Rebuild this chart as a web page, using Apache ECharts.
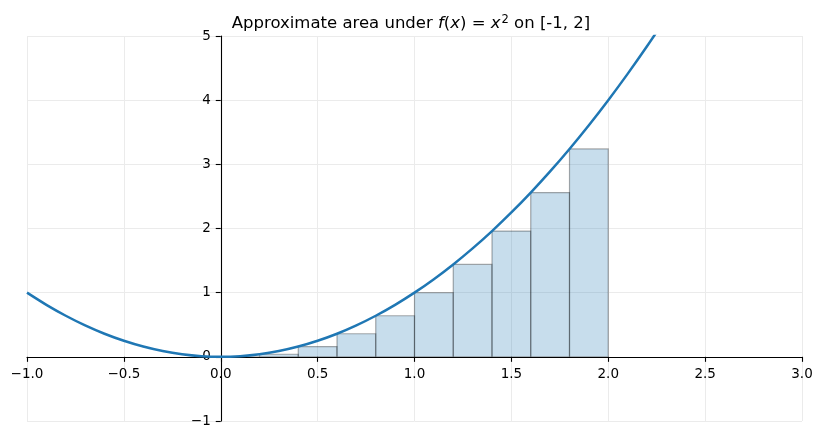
<!DOCTYPE html>
<html>
<head>
<meta charset="utf-8">
<script src="https://cdn.jsdelivr.net/npm/echarts@6/dist/echarts.min.js"></script>
<style>
  html, body { margin: 0; padding: 0; background: #fff; }
  #chart { width: 822px; height: 439px; }
</style>
</head>
<body>
<div id="chart"></div>
<script>
const curveX = [-1.0, -0.9, -0.8, -0.7, -0.6, -0.5, -0.4, -0.3, -0.2, -0.1, 0.0,
  0.1, 0.2, 0.3, 0.4, 0.5, 0.6, 0.7, 0.8, 0.9, 1.0, 1.1, 1.2, 1.3, 1.4, 1.5,
  1.6, 1.7, 1.8, 1.9, 2.0, 2.1, 2.2, 2.3]
const curveY = [1.00, 0.81, 0.64, 0.49, 0.36, 0.25, 0.16, 0.09, 0.04, 0.01, 0.00,
  0.01, 0.04, 0.09, 0.16, 0.25, 0.36, 0.49, 0.64, 0.81, 1.00, 1.21, 1.44, 1.69, 1.96, 2.25,
  2.56, 2.89, 3.24, 3.61, 4.00, 4.41, 4.84, 5.29]

// left-endpoint rectangles
const barLeft = [0.0, 0.2, 0.4, 0.6, 0.8, 1.0, 1.2, 1.4, 1.6, 1.8]
const barHeight = [0.00, 0.04, 0.16, 0.36, 0.64, 1.00, 1.44, 1.96, 2.56, 3.24]
const barWidth = 0.2

const xTicks = [-1.0, -0.5, 0.0, 0.5, 1.0, 1.5, 2.0, 2.5, 3.0]
const yTicks = [-1, 0, 1, 2, 3, 4, 5]

const font = 'DejaVu Sans'
const W = 822, H = 439
const gridBox = { left: 27, right: 20, top: 36, bottom: 18 }
const plotW = W - gridBox.left - gridBox.right
const plotH = H - gridBox.top - gridBox.bottom
const xMin = xTicks[0], xMax = xTicks[xTicks.length - 1]
const yMin = yTicks[0], yMax = yTicks[yTicks.length - 1]
// spines sit at zero: shift each axis inward from the grid edge
const xAxisShift = -plotH * (0 - yMin) / (yMax - yMin)
const yAxisShift = -plotW * (0 - xMin) / (xMax - xMin)

const chart = echarts.init(document.getElementById('chart'))

function minus(s) {
  return s.replace('-', '\u2212')
}

chart.setOption({
  animation: false,
  backgroundColor: '#fff',
  title: {
    left: 'center',
    top: 9,
    padding: [5, 0, 5, 7],
    text: 'Approximate area under {i|f}({i|x}) = {i|x}{sup|2} on [-1, 2]',
    textStyle: {
      fontFamily: font,
      fontSize: 16.5,
      fontWeight: 'normal',
      color: '#000',
      rich: {
        i: { fontFamily: font, fontSize: 16.5, fontStyle: 'italic', color: '#000' },
        sup: { fontFamily: font, fontSize: 11.5, color: '#000', verticalAlign: 'top', padding: [0, 0, 7, 1] },
      },
    },
  },
  grid: { ...gridBox, containLabel: false, outerBoundsMode: 'none' },
  xAxis: {
    type: 'value',
    min: xMin,
    max: xMax,
    interval: 0.5,
    position: 'bottom',
    offset: xAxisShift,
    axisLine: { onZero: false, lineStyle: { color: '#000', width: 1.1 } },
    axisTick: { show: true, inside: false, length: 5, lineStyle: { color: '#000', width: 1.1 } },
    axisLabel: {
      margin: 11,
      fontFamily: font,
      fontSize: 13.5,
      color: '#000',
      formatter: (v) => minus(v.toFixed(1)),
    },
    splitLine: { show: true, lineStyle: { color: '#ebebeb', width: 1 } },
  },
  yAxis: {
    type: 'value',
    min: yMin,
    max: yMax,
    interval: 1,
    position: 'left',
    offset: yAxisShift,
    axisLine: { onZero: false, lineStyle: { color: '#000', width: 1.1 } },
    axisTick: { show: true, inside: false, length: 5, lineStyle: { color: '#000', width: 1.1 } },
    axisLabel: {
      margin: 10,
      fontFamily: font,
      fontSize: 13.5,
      color: '#000',
      formatter: (v) => minus(String(v)),
    },
    splitLine: { show: true, lineStyle: { color: '#ebebeb', width: 1 } },
  },
  series: [
    {
      type: 'custom',
      z: 2,
      data: barLeft.map((x, i) => [x, barHeight[i]]),
      renderItem: (params, api) => {
        const x0 = api.value(0)
        const h = api.value(1)
        const p0 = api.coord([x0, h])
        const p1 = api.coord([x0 + barWidth, 0])
        return {
          type: 'rect',
          shape: { x: p0[0], y: p0[1], width: p1[0] - p0[0], height: p1[1] - p0[1] },
          style: {
            fill: 'rgba(31,119,180,0.25)',
            stroke: 'rgba(0,0,0,0.32)',
            lineWidth: 1.2,
          },
        }
      },
    },
    {
      type: 'line',
      z: 3,
      smooth: 0.3,
      showSymbol: false,
      symbol: 'none',
      clip: true,
      data: curveX.map((x, i) => [x, curveY[i]]),
      lineStyle: { color: '#1f77b4', width: 2.5 },
    },
  ],
})
</script>
</body>
</html>
